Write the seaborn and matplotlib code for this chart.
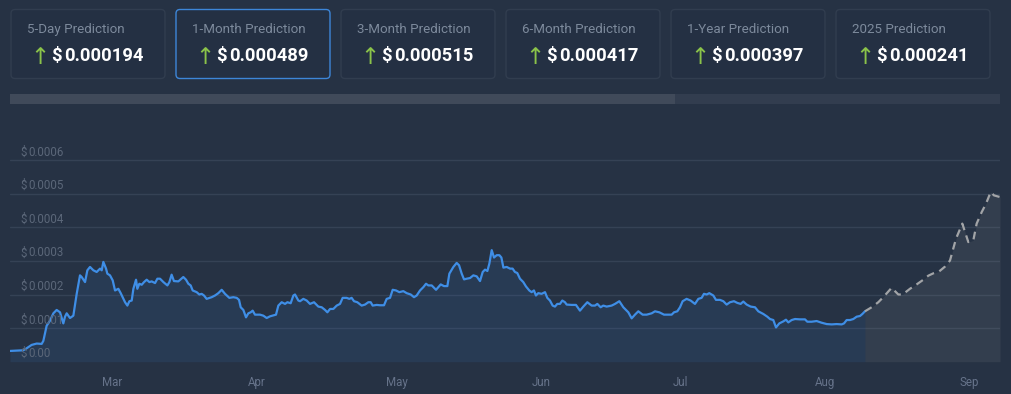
import numpy as np
import pandas as pd
import matplotlib
matplotlib.use("Agg")
import matplotlib.pyplot as plt
import matplotlib.transforms as mtransforms
from matplotlib.patches import FancyBboxPatch, Rectangle
import seaborn as sns

# ---------------- data ----------------
start_date = "2024-02-08"

card_titles = ["5-Day Prediction", "1-Month Prediction", "3-Month Prediction",
               "6-Month Prediction", "1-Year Prediction", "2025 Prediction"]
card_values = ["0.000194", "0.000489", "0.000515", "0.000417", "0.000397", "0.000241"]
selected_card = 1

hist_days = [0, 2.86, 3.58, 4.65, 5.73, 6.80, 7.16, 7.87, 8.59, 9.31, 10.02, 10.74, 11.10,
             11.45, 11.81, 12.17, 12.88, 13.60, 14.32, 15.03, 15.39, 16.11, 16.61, 17.18,
             17.90, 18.61, 19.33, 19.69, 20.04, 20.62, 20.90, 21.47, 22.05, 22.55, 23.26,
             23.77, 24.70, 25.20, 25.63, 26.13, 26.49, 27.06, 27.34, 27.77, 28.28, 28.78,
             29.35, 29.92, 30.42, 31.14, 31.64, 32.21, 32.93, 33.79, 34.22,
             34.7, 35.2, 36.14, 37.21, 37.79, 38.29, 38.79, 39.22, 40.08, 40.65, 41.15,
             41.65, 42.22, 43.30, 44.01, 44.73, 45.45, 46.16, 47.09, 47.95, 48.67, 49.17,
             49.53, 50.10, 50.67, 51.17, 51.67, 52.10, 52.60, 53.68, 54.39, 55.11, 55.82,
             57.11, 57.61, 58.33, 59.05, 59.55, 60.26, 60.84, 61.19, 61.91, 62.27, 62.98,
             63.70, 64.41, 65.27, 66.20, 66.92, 67.64, 68.14, 68.71, 69.42, 70.14,
             70.85, 71.42, 72.28, 72.85, 73.35, 73.86, 74.57, 75.50, 76.22, 76.93, 77.44,
             77.86, 78.72, 79.44, 80.30, 80.87, 81.59, 82.16, 82.88, 83.59, 84.45, 85.17,
             86.03, 86.74, 87.31, 88.03, 88.75, 89.32, 89.82, 90.54, 91.47, 91.97, 92.47,
             93.18, 93.90, 94.33, 95.19, 95.90, 96.41, 96.98, 97.48, 98.05, 98.77, 99.48,
             100.20, 100.91, 101.49, 101.99, 102.49, 102.92, 103.42, 103.92, 104.49,
             105.07, 105.50, 105.93, 106.64, 107.36,
             107.91, 108.41, 108.91, 109.49, 110.20, 110.78, 111.49, 111.99, 112.49,
             112.92, 113.42, 114.14, 114.86, 115.36, 115.93, 116.50, 117.00, 117.50,
             118.08, 118.58, 119.15, 119.51, 120.58, 121.51, 122.37, 123.09, 123.95,
             124.88, 125.59, 126.10, 126.81, 127.38, 128.10, 129.17, 129.89, 130.82,
             131.68, 132.75, 133.47, 134.18, 134.90, 135.83, 136.69, 137.76, 138.48,
             139.41, 140.41, 141.34, 142.06, 142.56, 143.27, 143.85,
             144.41, 145.27, 146.13, 147.06, 147.78, 148.49, 148.99, 149.57, 150.14,
             151.00, 151.57, 152.43, 153.15, 153.86, 154.58, 155.44, 156.15, 156.87,
             157.44, 158.16, 159.02, 159.95, 160.66, 161.74, 162.59, 163.17, 163.88,
             164.46, 165.17, 166.03, 166.60, 167.10, 167.82, 168.54, 169.61, 170.68,
             171.18, 172.11, 173.19, 174.26, 175.34, 176.41, 177.48, 178.56, 179.06,
             179.63, 180.35, 181.06, 181.78, 182.49, 183.0, 183.56]

hist_price = [0.32, 0.34, 0.40, 0.50, 0.54, 0.53, 0.62, 1.07, 1.22, 1.44, 1.54, 1.47, 1.30,
              1.14, 1.34, 1.44, 1.30, 1.37, 2.02, 2.57, 2.52, 2.37, 2.72, 2.82,
              2.72, 2.67, 2.77, 2.72, 2.97, 2.77, 2.62, 2.57, 2.42, 2.12, 2.17,
              2.04, 1.77, 1.67, 1.80, 1.82, 2.17, 2.44, 2.17, 2.32, 2.29, 2.37,
              2.44, 2.37, 2.39, 2.34, 2.47, 2.47, 2.37, 2.27, 2.37,
              2.59, 2.40, 2.39, 2.52, 2.44, 2.32, 2.27, 2.12, 2.07, 2.00, 2.02,
              1.97, 1.87, 1.92, 1.97, 2.04, 2.14, 2.02, 1.90, 1.92, 1.90, 1.84,
              1.62, 1.54, 1.32, 1.44, 1.47, 1.52, 1.40, 1.40, 1.37, 1.30, 1.35,
              1.40, 1.67, 1.77, 1.72, 1.77, 1.74, 1.97, 2.00, 1.82, 1.80, 1.87,
              1.82, 1.72, 1.77, 1.64, 1.62, 1.54, 1.47, 1.57, 1.57, 1.67,
              1.72, 1.90, 1.90, 1.87, 1.90, 1.80, 1.77, 1.67, 1.70, 1.77, 1.77,
              1.67, 1.69, 1.68, 1.68, 1.87, 1.90, 2.14, 2.12, 2.07, 2.10, 2.04,
              2.00, 1.92, 1.97, 2.12, 2.22, 2.32, 2.27, 2.27, 2.14, 2.22, 2.30,
              2.25, 2.25, 2.62, 2.82, 2.94, 2.87, 2.62, 2.45, 2.47, 2.49, 2.57,
              2.54, 2.40, 2.67, 2.74, 2.70, 2.92, 3.32, 3.10, 3.17,
              3.17, 3.10, 2.80, 2.82, 2.77,
              2.77, 2.67, 2.64, 2.47, 2.37, 2.24, 2.12, 2.07, 2.12,
              1.97, 2.04, 2.02, 2.07, 1.90, 1.82, 1.67, 1.64, 1.72,
              1.72, 1.82, 1.77, 1.70, 1.69, 1.69, 1.52, 1.64, 1.77,
              1.67, 1.67, 1.72, 1.62, 1.67, 1.64, 1.67, 1.72, 1.80,
              1.62, 1.47, 1.29, 1.40, 1.50, 1.40, 1.40, 1.44, 1.50,
              1.47, 1.40, 1.40, 1.40, 1.47, 1.50, 1.62,
              1.80, 1.87, 1.82, 1.72, 1.87, 1.90, 2.02, 2.00, 2.04,
              1.97, 1.84, 1.84, 1.80, 1.70, 1.77, 1.80, 1.75, 1.72,
              1.79, 1.70, 1.64, 1.62, 1.50, 1.42, 1.34, 1.27, 1.24,
              1.02, 1.14, 1.20, 1.25, 1.17, 1.24, 1.27, 1.26, 1.26,
              1.19, 1.19, 1.21, 1.16, 1.12, 1.11, 1.12, 1.11, 1.14,
              1.24, 1.24, 1.27, 1.34, 1.36, 1.42, 1.50]

fc_days = [183.56, 184.99, 186.42, 187.49, 189.29, 190.72, 191.65, 193.22, 194.65,
           196.09, 197.16, 198.23, 199.52, 200.74, 201.81, 203.10, 204.46, 205.75,
           206.82, 207.54, 208.61, 209.54, 210.55, 211.26, 212.55]
fc_price = [1.50, 1.62, 1.77, 1.92, 2.20, 2.00, 2.00, 2.17, 2.30,
            2.44, 2.56, 2.63, 2.69, 2.83, 3.01, 3.66, 4.11, 3.56,
            3.61, 4.11, 4.45, 4.70, 5.05, 4.95, 4.90]

y_ticks = [0.0, 0.0001, 0.0002, 0.0003, 0.0004, 0.0005, 0.0006]
y_labels = ["0.00", "0.0001", "0.0002", "0.0003", "0.0004", "0.0005", "0.0006"]
currency = "$"
month_ticks = ["2024-03-01", "2024-04-01", "2024-05-01", "2024-06-01",
               "2024-07-01", "2024-08-01", "2024-09-01"]
month_labels = ["Mar", "Apr", "May", "Jun", "Jul", "Aug", "Sep"]

# ---------------- frames ----------------
t0 = pd.Timestamp(start_date)
hist = pd.DataFrame({"date": t0 + pd.to_timedelta(hist_days, unit="D"),
                     "price": np.array(hist_price) * 1e-4})
fc = pd.DataFrame({"date": t0 + pd.to_timedelta(fc_days, unit="D"),
                   "price": np.array(fc_price) * 1e-4})

# ---------------- style ----------------
BG = "#263244"
sns.set_theme(style="dark")
plt.rcParams["font.family"] = ["Roboto", "DejaVu Sans"]
plt.rcParams["figure.facecolor"] = BG
plt.rcParams["axes.facecolor"] = BG

W, H = 1012, 394
fig = plt.figure(figsize=(W / 100, H / 100), dpi=100)

# overlay axes in pixel coordinates
ov = fig.add_axes([0, 0, 1, 1], zorder=0)
ov.set_xlim(0, W)
ov.set_ylim(H, 0)
ov.axis("off")

card_w, card_h, card_y = 154, 69, 9.5
for i, (title, val) in enumerate(zip(card_titles, card_values)):
    cx = 11 + i * 165
    edge = "#3d86d8" if i == selected_card else "#313d4f"
    ov.add_patch(FancyBboxPatch((cx, card_y), card_w, card_h,
                                boxstyle="round,pad=0,rounding_size=4",
                                facecolor="#243043", edgecolor=edge, linewidth=1.0))
    ov.text(cx + 16, 29.5, title, color="#7d8a9c", fontsize=9.6,
            ha="left", va="center")
    ov.text(cx + 19.5, 57, "\u2191", color="#8bc34a", fontsize=16.5,
            ha="left", va="center", family=["DejaVu Sans"])
    ov.text(cx + 40.5, 56, currency, color="white", fontsize=13.2,
            fontweight="bold", ha="left", va="center")
    ov.text(cx + 53.5, 56, val, color="white", fontsize=13.2,
            fontweight="bold", ha="left", va="center")

# scroll bar
ov.add_patch(Rectangle((10, 94), 990, 9.5, facecolor="#323d4f", edgecolor="none"))
ov.add_patch(Rectangle((10, 94), 665, 9.5, facecolor="#404a5a", edgecolor="none"))

# chart axes
ax_top, ax_bot, ax_l, ax_r = 130, 361.7, 10, 1000
ax = fig.add_axes([ax_l / W, (H - ax_bot) / H, (ax_r - ax_l) / W, (ax_bot - ax_top) / H],
                  zorder=1)
ax.set_facecolor("none")

ax.fill_between(hist["date"], 0, hist["price"], color=(0.24, 0.47, 0.78),
                alpha=0.13, linewidth=0, zorder=1)
ax.fill_between(fc["date"], 0, fc["price"], color=(0.6, 0.6, 0.6),
                alpha=0.12, linewidth=0, zorder=1)
sns.lineplot(data=hist, x="date", y="price", ax=ax, color="#3f8ee6",
             linewidth=1.6, zorder=3)
sns.lineplot(data=fc, x="date", y="price", ax=ax, color="#a2a4a7",
             linewidth=1.6, linestyle=(0, (3.5, 2.5)), zorder=3)

ax.set_xlim(t0, t0 + pd.Timedelta(days=212.55))
ax.set_ylim(0, (ax_bot - ax_top) / 33.6 * 1e-4)

ax.set_yticks(y_ticks[1:])
ax.set_yticklabels([])
ax.tick_params(axis="y", length=0)
ax.yaxis.grid(True, color="#354255", linewidth=1.0)
ax.xaxis.grid(False)
ax.set_axisbelow(True)

ax.set_xticks(pd.to_datetime(month_ticks))
ax.set_xticklabels(month_labels)
ax.tick_params(axis="x", length=0, pad=10, labelsize=8.3, labelcolor="#66738a")
ax.set_xlabel("")
ax.set_ylabel("")
for s in ax.spines.values():
    s.set_visible(False)

trans = mtransforms.blended_transform_factory(ax.transAxes, ax.transData)
for v, lab in zip(y_ticks, y_labels):
    ax.annotate(currency, xy=(0, v), xycoords=trans,
                xytext=(10, 1.5), textcoords="offset pixels",
                color="#5b6779", fontsize=8.3, ha="left", va="bottom", zorder=4)
    ax.annotate(lab, xy=(0, v), xycoords=trans,
                xytext=(18.3, 1.5), textcoords="offset pixels",
                color="#5b6779", fontsize=8.3, ha="left", va="bottom", zorder=4)

fig.savefig("out.png", dpi=100, facecolor=BG)
